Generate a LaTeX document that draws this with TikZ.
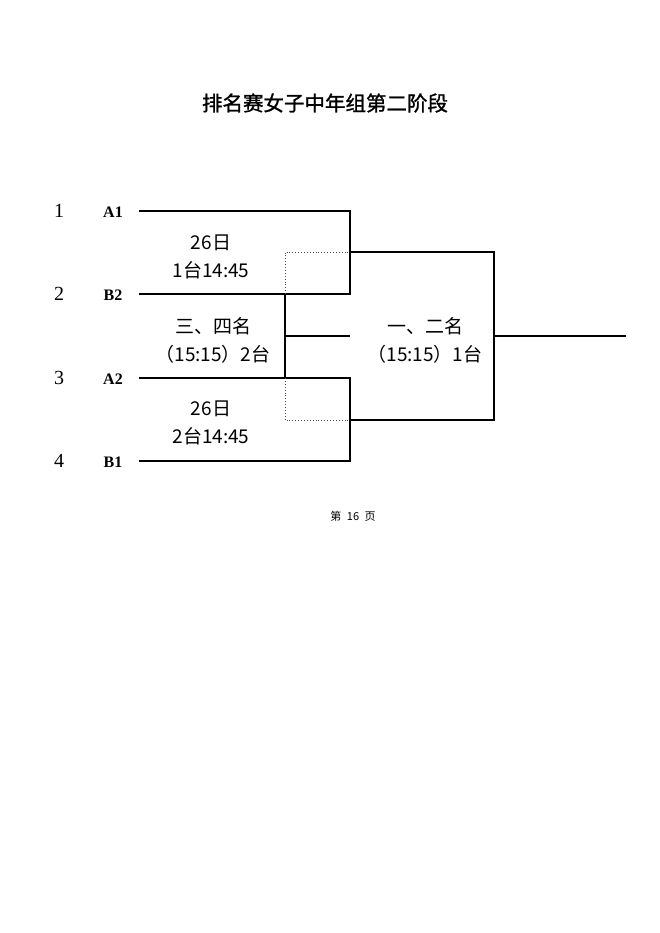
\documentclass[tikz,border=0pt]{standalone}
\usepackage{fontspec}
\setmainfont{Liberation Serif}
\newfontfamily\cjk{Noto Sans CJK SC}
\newfontfamily\cjkhead[FakeBold=1.2]{Noto Sans CJK SC}
\usepackage{tikz}
\usetikzlibrary{positioning}
\tikzset{
    seed/.style={
           font=\fontsize{20}{20}\selectfont,
           inner sep=0pt,
           anchor=center,
           },
    team/.style={
           font=\fontsize{16}{16}\selectfont\bfseries,
           inner sep=0pt,
           anchor=center,
           },
    match/.style={
           font=\cjk\fontsize{19}{28}\selectfont,
           align=center,
           inner sep=0pt,
           anchor=center,
           },
    bracket/.style={
           draw=black, line width=1.1pt,
           },
    spare/.style={
           draw=black!70, dotted, line width=0.9pt,
           },
}

\begin{document}
\begin{tikzpicture}[x=1pt,y=-1pt]

 \useasboundingbox (0,0) rectangle (660,933);

 \node[font=\cjkhead\fontsize{20.5}{20.5}\selectfont] (Title) at (325,103)
 {排名赛女子中年组第二阶段};

 % seed numbers and teams
 \node[seed] (S1) at (59,211) {1};
 \node[seed] (S2) at (59,294) {2};
 \node[seed] (S3) at (59,378) {3};
 \node[seed] (S4) at (59,461) {4};

 \node[team] (A1) at (113,212) {A1};
 \node[team] (B2) at (113,295) {B2};
 \node[team] (A2) at (113,379) {A2};
 \node[team] (B1) at (113,462) {B1};

 % ends of the lines
 \coordinate (L1) at (139,211);
 \coordinate (L2) at (139,294);
 \coordinate (L3) at (139,378);
 \coordinate (L4) at (139,461);

 \coordinate (W1) at (350,252); 	% winner of the first match
 \coordinate (W2) at (350,420); 	% winner of the second match
 \coordinate (Q1) at (285,294); 	% loser of the first match
 \coordinate (Q2) at (285,378); 	% loser of the second match
 \coordinate (Third) at (350,336);
 \coordinate (Final) at (494,336);
 \coordinate (Champ) at (626,336);

 % match texts
 \node[match] (M1) at (211,257) 	% first match
 {26日\\1台14:45};

 \node[match] (M2) at (211,423) 	% second match
 {26日\\2台14:45};

 \node[match] (M3) at (213,340) 	% place 3 and 4
 {三、四名\\（15:15）2台};

 \node[match] (M4) at (425,340) 	% place 1 and 2
 {一、二名\\（15:15）1台};

 \node[font=\cjk\fontsize{11}{11}\selectfont] (Page) at (353,516)
 {第\enspace 16\enspace 页};

 % draw the brackets
 \draw[bracket] (L1) -| (W1) |- (L2);
 \draw[bracket] (L3) -| (W2) |- (L4);
 \draw[bracket] (W1) -| (Final) |- (W2);
 \draw[bracket] (Final) -- (Champ);
 \draw[bracket] (Q1) -- (Q2);
 \draw[bracket] (Q1 |- Third) -- (Third);
 \draw[spare] (Q1) |- (W1);
 \draw[spare] (Q2) |- (W2);

\end{tikzpicture}
\end{document}
